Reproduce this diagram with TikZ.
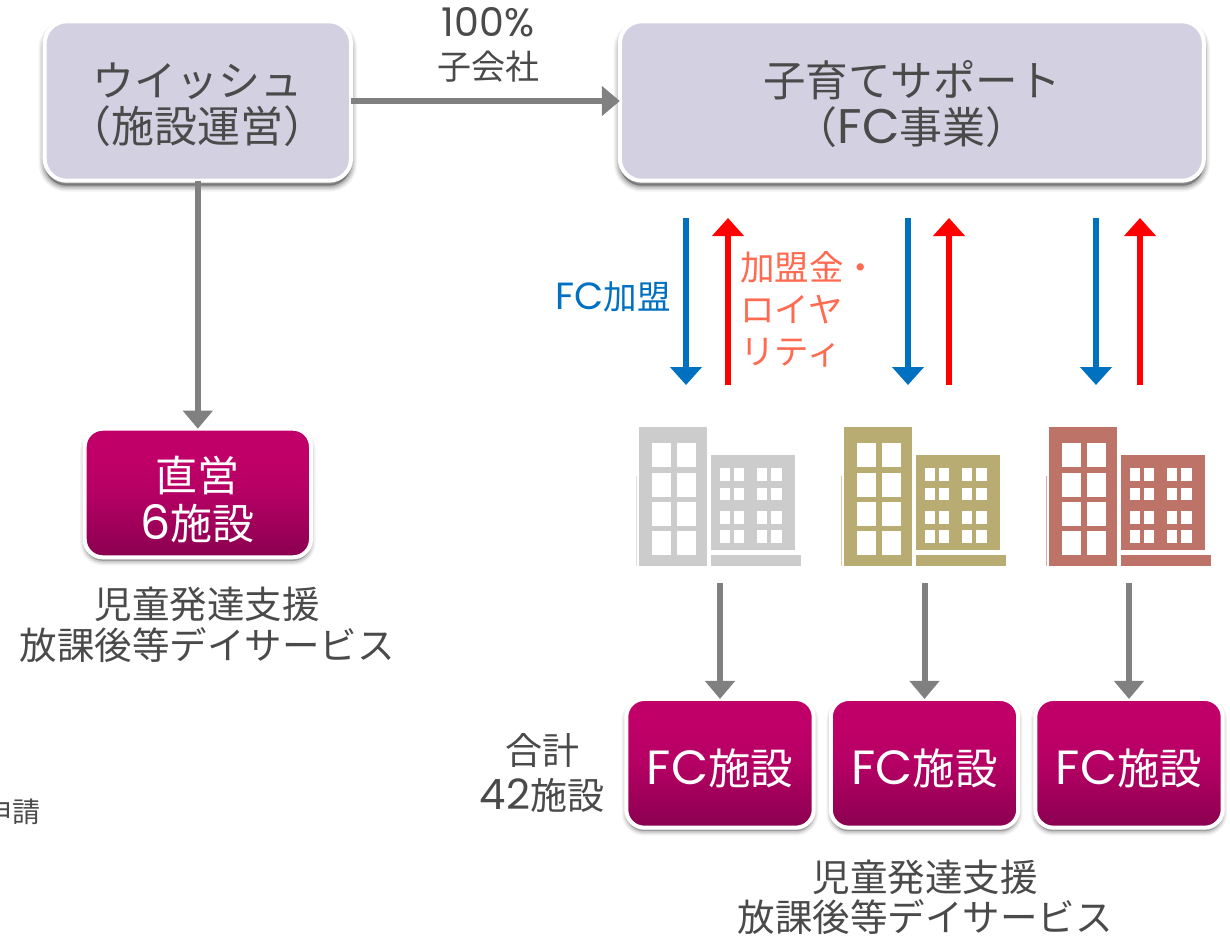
\documentclass[tikz,border=0pt]{standalone}
\usepackage{fontspec}
\setmainfont{Noto Sans CJK JP}
\newfontfamily\latf[Scale=1.13]{Poppins}
\usetikzlibrary{arrows.meta,shadows,positioning}
\definecolor{txt}{HTML}{4A4A4A}
\definecolor{lav}{HTML}{D3D1E1}
\definecolor{grayline}{HTML}{808080}
\definecolor{fcblue}{HTML}{0070C0}
\definecolor{redt}{HTML}{FF6A50}
\definecolor{magtop}{HTML}{C00068}
\definecolor{magmid}{HTML}{B50064}
\definecolor{magbot}{HTML}{8A0050}
\definecolor{bgray}{HTML}{CCCCCC}
\definecolor{bgold}{HTML}{B8AC72}
\definecolor{bred}{HTML}{BD7367}
\pgfdeclareverticalshading{magshade}{100bp}{color(0bp)=(magbot); color(25bp)=(magbot); color(50bp)=(magmid); color(65bp)=(magtop); color(100bp)=(magtop)}
\newcommand{\fsz}[1]{\fontsize{#1}{#1}\selectfont}
\newcommand{\lat}[1]{{\latf #1}}
\newcommand{\tallst}[1]{\rule{0pt}{#1pt}}
\tikzset{
  softshadow/.style={
    general shadow={shadow xshift=0pt,shadow yshift=-5pt,fill=black,draw=black,line width=12pt,opacity=.05},
    general shadow={shadow xshift=0pt,shadow yshift=-5pt,fill=black,draw=black,line width=9pt,opacity=.07},
    general shadow={shadow xshift=0pt,shadow yshift=-5pt,fill=black,draw=black,line width=6pt,opacity=.10},
    general shadow={shadow xshift=0pt,shadow yshift=-5pt,fill=black,draw=black,line width=3pt,opacity=.12}},
  smallshadow/.style={
    general shadow={shadow xshift=0pt,shadow yshift=-3.5pt,fill=black,draw=black,line width=9pt,opacity=.05},
    general shadow={shadow xshift=0pt,shadow yshift=-3.5pt,fill=black,draw=black,line width=6pt,opacity=.07},
    general shadow={shadow xshift=0pt,shadow yshift=-3.5pt,fill=black,draw=black,line width=3pt,opacity=.10}},
  lavbox/.style={draw=white,line width=4pt,rounded corners=22pt,fill=lav,softshadow,text=txt,align=center,inner sep=0pt,outer sep=0pt},
  magbox/.style={draw=white,line width=4pt,rounded corners=18pt,shading=magshade,smallshadow,text=white,align=center,inner sep=0pt,outer sep=0pt},
  lbl/.style={text=txt,align=center,inner sep=0pt},
  grayarrow/.style={draw=grayline,line width=6pt,-{Triangle[length=18pt,width=29pt]}},
  bluearrow/.style={draw=fcblue,line width=6pt,-{Triangle[length=18pt,width=31pt]}},
  redarrow/.style={draw=red,line width=6pt,-{Triangle[length=18pt,width=31pt]}},
}
\newcommand{\bldg}[2]{%
  \begin{scope}[xshift=#1pt]
    \fill[#2] (639.3,427.3) rectangle (706.7,566);
    \fill[#2] (711,455.3) rectangle (795,550);
    \fill[#2] (711,555.3) rectangle (800.7,566);
    \fill[#2!60] (635.6,476) rectangle (636.6,566);
    \foreach \xa/\xb in {651.7/671,677.3/696.3}
      \foreach \ya/\yb in {443/467,473/497,502/526,531/555}
        \fill[white] (\xa,\ya) rectangle (\xb,\yb);
    \foreach \xa/\xb in {720/730,734.3/744.3,757.3/767.3,770.7/781.7}
      \foreach \ya/\yb in {468.3/480.7,487.7/500,510.7/524,530/542.7}
        \fill[white] (\xa,\ya) rectangle (\xb,\yb);
  \end{scope}}
\begin{document}
\begin{tikzpicture}[x=1pt,y=-1pt]
\useasboundingbox (0,0) rectangle (1230,936);
\fill[white] (0,0) rectangle (1230,936);

% top boxes
\node[lavbox,minimum width=306.3pt,minimum height=159.4pt] (wish) at (197.85,101)
  {\fsz{42}\tallst{42}ウイッシュ\\[5pt]\fsz{43}（施設運営）};
\node[lavbox,minimum width=584pt,minimum height=159.4pt] (kosodate) at (911.85,101)
  {\fsz{42.5}\tallst{42}子育てサポート\\[5pt]\fsz{43}（\lat{FC}事業）};

% direct facilities
\node[magbox,minimum width=226.3pt,minimum height=128.6pt] (direct) at (197.85,493)
  {\fsz{42}\tallst{48}直営\\[8pt]\fsz{42}\lat{6}施設};
\node[lbl,font=\fsz{37.5}] (ltxt) at (207,625) {児童発達支援\\[3.5pt]放課後等デイサービス};

% FC boxes
\node[magbox,minimum width=187.4pt,minimum height=128.7pt] (fc1) at (720,763.3) {\fsz{42.5}\tallst{46}\lat{FC}施設};
\node[magbox,minimum width=187.4pt,minimum height=128.7pt] (fc2) at (924.5,763.3) {\fsz{42.5}\tallst{46}\lat{FC}施設};
\node[magbox,minimum width=187.4pt,minimum height=128.7pt] (fc3) at (1129,763.3) {\fsz{42.5}\tallst{46}\lat{FC}施設};
\node[lbl,font=\fsz{37.5}] (rtxt) at (925,897) {児童発達支援\\[2.5pt]放課後等デイサービス};
\node[lbl,font=\fsz{37}] (total) at (542,773) {合計\\[8pt]\lat{42}施設};

% labels
\node[lbl,font=\fsz{35}] (pct) at (488,45) {\lat{100\%}\\[8pt]\fsz{34}子会社};
\node[lbl,font=\fsz{33.5},text=fcblue] (join) at (613,297) {\lat{FC}加盟};
\node[lbl,font=\fsz{34.5},text=redt,align=left,anchor=north west] (fee) at (740,251)
  {加盟金・\\[7.5pt]ロイヤ\\[7.5pt]リティ};
\node[text=txt,font=\fsz{28},anchor=east,inner sep=0pt] (apply) at (41,812) {申請};

% buildings
\bldg{0}{bgray}
\bldg{205}{bgold}
\bldg{410}{bred}

% free ends
\coordinate (b1t) at (686,218); \coordinate (b1b) at (686,385);
\coordinate (r1t) at (728,218); \coordinate (r1b) at (728,385);
\coordinate (b2t) at (908,218); \coordinate (b2b) at (908,385);
\coordinate (r2t) at (949,218); \coordinate (r2b) at (949,385);
\coordinate (b3t) at (1096,218); \coordinate (b3b) at (1096,385);
\coordinate (r3t) at (1140,218); \coordinate (r3b) at (1140,385);
\coordinate (g1) at (720,583);
\coordinate (g2) at (924.5,583);
\coordinate (g3) at (1129,583);

% connectors
\draw[grayarrow] (wish.east) -- (kosodate.west);
\draw[grayarrow] (wish.south) -- (direct.north);
\draw[bluearrow] (b1t) -- (b1b);
\draw[redarrow] (r1b) -- (r1t);
\draw[bluearrow] (b2t) -- (b2b);
\draw[redarrow] (r2b) -- (r2t);
\draw[bluearrow] (b3t) -- (b3b);
\draw[redarrow] (r3b) -- (r3t);
\draw[grayarrow] (g1) -- (fc1.north);
\draw[grayarrow] (g2) -- (fc2.north);
\draw[grayarrow] (g3) -- (fc3.north);
\end{tikzpicture}
\end{document}
